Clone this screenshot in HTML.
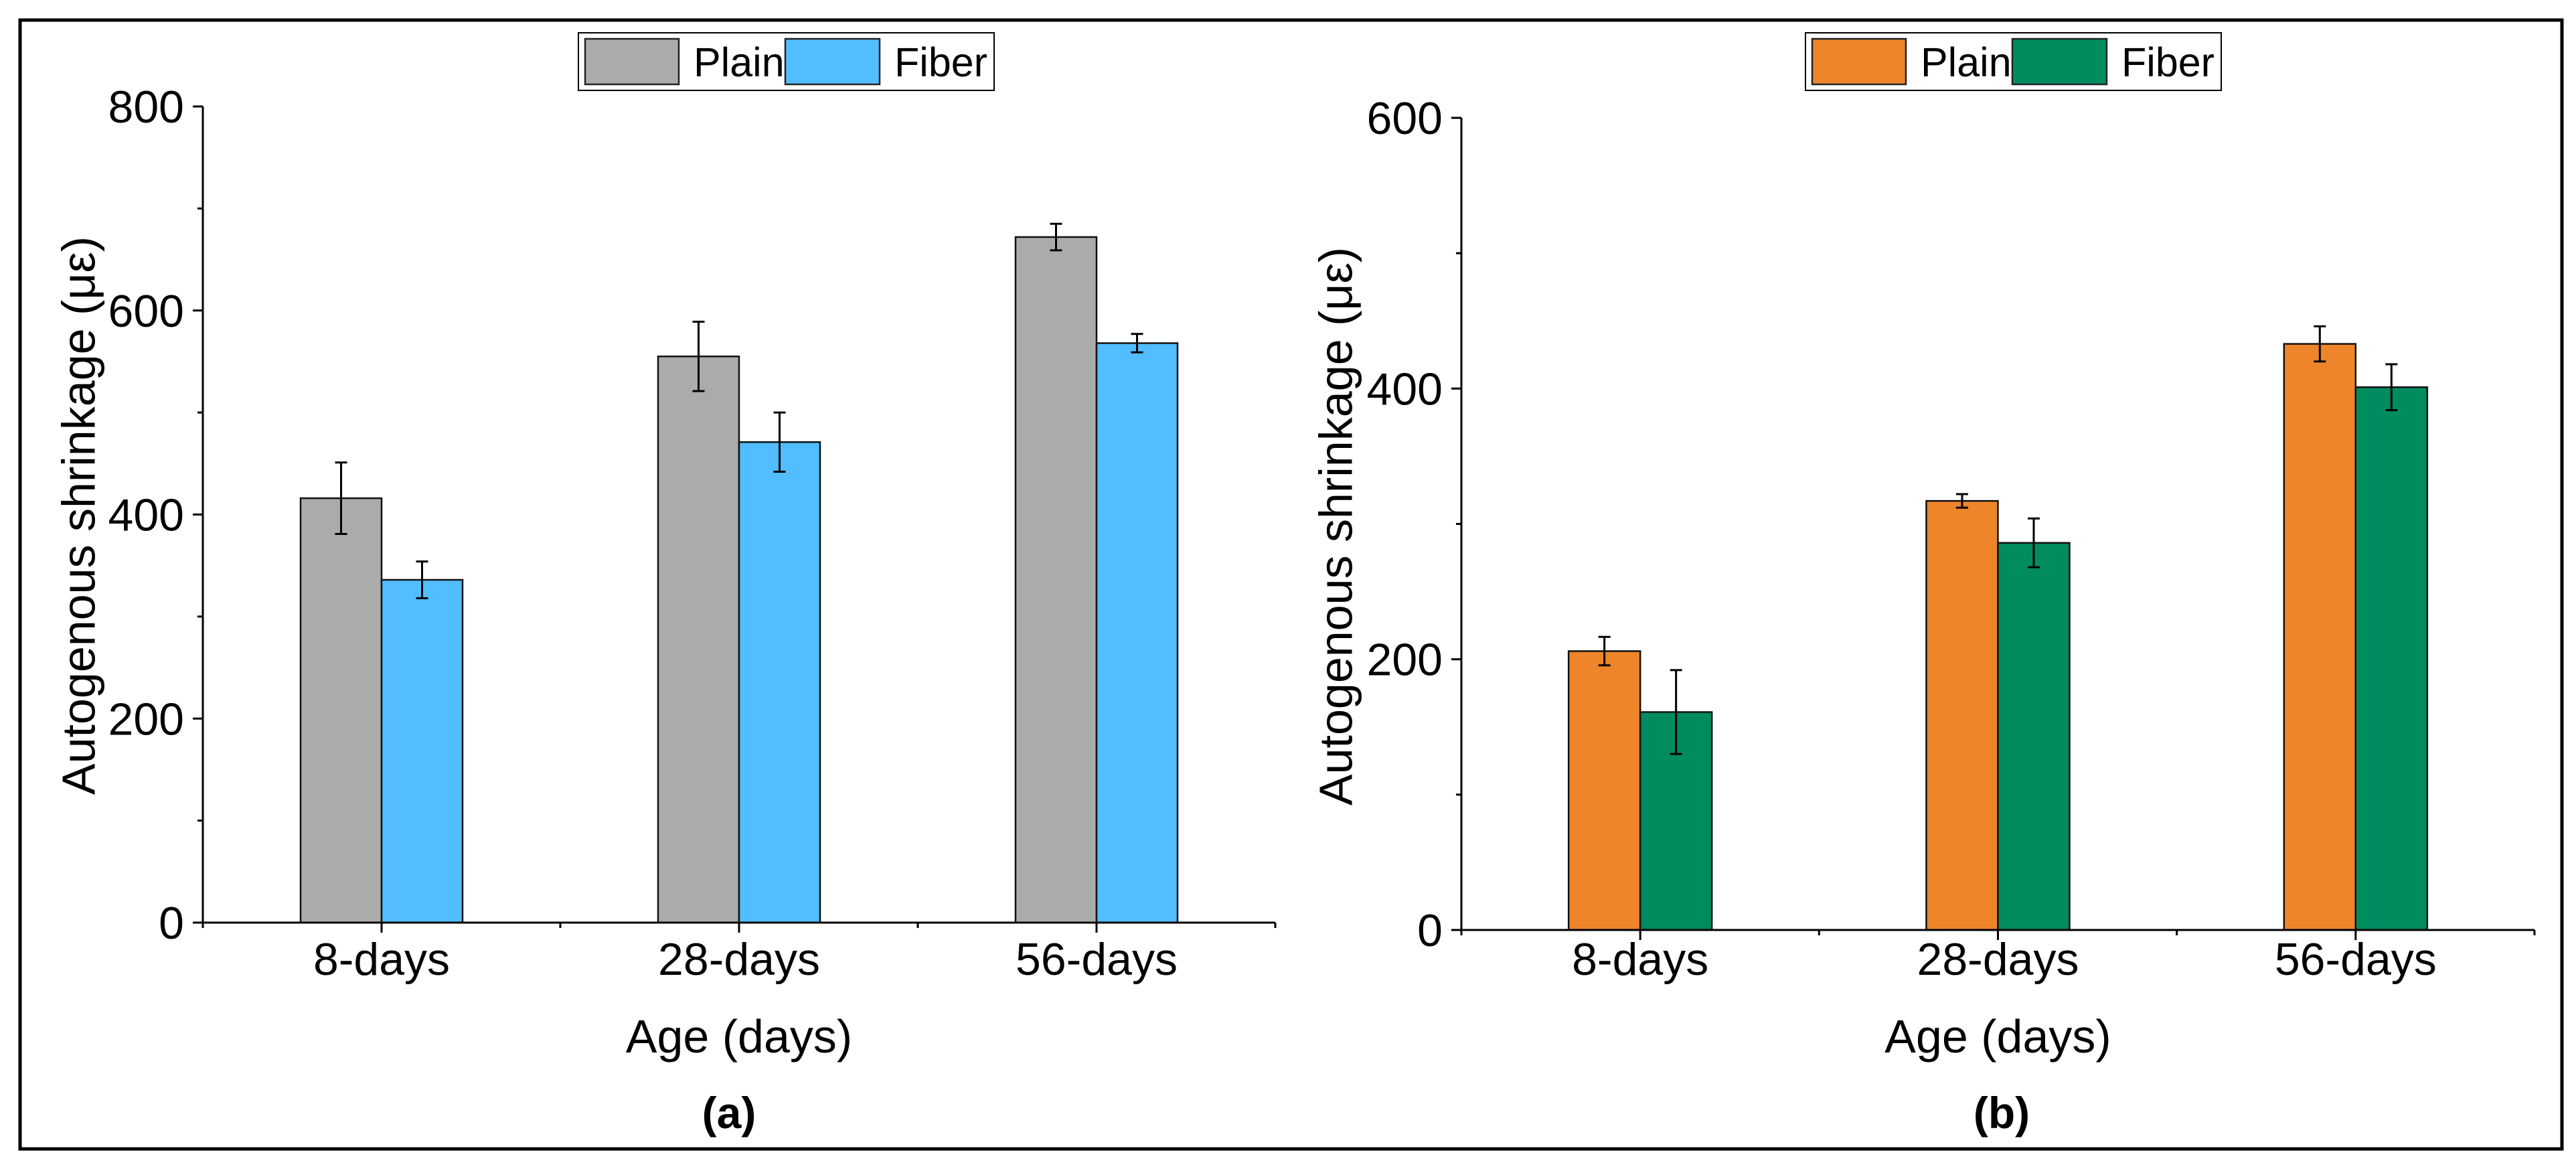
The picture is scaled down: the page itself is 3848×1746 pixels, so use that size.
<!DOCTYPE html>
<html><head><meta charset="utf-8"><style>
html,body{margin:0;padding:0;background:#fff}
svg{display:block}
text{font-family:"Liberation Sans",Arial,sans-serif;fill:#000}
</style></head><body>
<svg id="fig" width="3848" height="1746" viewBox="0 0 3848 1746" xmlns="http://www.w3.org/2000/svg">
<rect x="30" y="30" width="3797" height="1686" fill="none" stroke="#000" stroke-width="5"/>
<g id="pa"></g>
<g id="pb"></g>
</svg>
<script>
const categories = ["8-days", "28-days", "56-days"];
const seriesNames = ["Plain", "Fiber"];
const aPlain = [416, 555, 672];
const aPlainErr = [35, 34, 13];
const aFiber = [336, 471, 568];
const aFiberErr = [18, 29, 9];
const aTicks = [0, 200, 400, 600, 800];
const bPlain = [206, 317, 433];
const bPlainErr = [10.5, 5, 13];
const bFiber = [161, 286, 401];
const bFiberErr = [31, 18, 17];
const bTicks = [0, 200, 400, 600];

const NS = "http://www.w3.org/2000/svg";
function mk(parent, tag, attrs, txt){
  const e = document.createElementNS(NS, tag);
  for (const k in attrs) e.setAttribute(k, attrs[k]);
  if (txt !== undefined) e.textContent = txt;
  parent.appendChild(e);
  return e;
}

function panel(g, cfg){
  const x0 = cfg.x0, x1 = cfg.x1, y0 = cfg.y0, yTop = cfg.yTop, ymax = cfg.ymax;
  const step = (x1 - x0) / categories.length;
  const xc = i => x0 + step * (i + 0.5);
  const ys = v => y0 - (v / ymax) * (y0 - yTop);
  const bw = cfg.bw;
  const series = [[cfg.plain, cfg.plainErr, cfg.c1, 'plain'], [cfg.fiber, cfg.fiberErr, cfg.c2, 'fiber']];
  series.forEach((s, si) => {
    s[0].forEach((v, i) => {
      const bx = si === 0 ? xc(i) - bw : xc(i);
      const r = mk(g, 'rect', {x: bx, y: ys(v), width: bw, height: y0 - ys(v), fill: s[2], stroke: '#111', 'stroke-width': 2.5});
      
      
      const cx = bx + bw / 2, e = s[1][i];
      const eb = mk(g, 'path', {d: `M${cx} ${ys(v+e)}V${ys(v-e)}M${cx-9} ${ys(v+e)}h18M${cx-9} ${ys(v-e)}h18`, stroke: '#000', 'stroke-width': 3, fill: 'none'});
      
      
    });
  });
  // axes
  const ax = mk(g, 'path', {d: `M${x0} ${yTop}V${y0}H${x1}`, stroke: '#000', 'stroke-width': 3, fill: 'none'});
  
  
  const minor = cfg.ticks[1] / 2;
  for (let v = 0; v <= ymax + 0.01; v += minor) {
    const major = cfg.ticks.includes(v);
    mk(g, 'line', {x1: x0 - (major ? 15 : 8), x2: x0, y1: ys(v), y2: ys(v), stroke: '#000', 'stroke-width': 3});
  }
  cfg.ticks.forEach(v => {
    const t = mk(g, 'text', {x: x0 - 28, y: ys(v) + 24, 'text-anchor': 'end', 'font-size': 68}, String(v));
    
    
  });
  for (let i = 0; i <= categories.length; i++) {
    mk(g, 'line', {x1: x0 + step * i, x2: x0 + step * i, y1: y0, y2: y0 + 8, stroke: '#000', 'stroke-width': 3});
  }
  categories.forEach((c, i) => {
    mk(g, 'line', {x1: xc(i), x2: xc(i), y1: y0, y2: y0 + 15, stroke: '#000', 'stroke-width': 3});
    const t = mk(g, 'text', {x: xc(i), y: 1456, 'text-anchor': 'middle', 'font-size': 68}, c);
    
    
  });
  const xt = mk(g, 'text', {x: xc(1), y: 1572, 'text-anchor': 'middle', 'font-size': 70}, 'Age (days)');
  
  
  const yt = mk(g, 'text', {x: 0, y: 0, 'text-anchor': 'middle', 'font-size': 70, transform: `translate(${cfg.ytx} ${cfg.yty}) rotate(-90)`, dy: '0.35em'}, 'Autogenous shrinkage (με)');
  
  
  const pl = mk(g, 'text', {x: cfg.labx, y: 1685, 'text-anchor': 'middle', 'font-size': 66, 'font-weight': 'bold'}, cfg.label);
  
  
  // legend
  const L = cfg.legX;
  const lg = mk(g, 'g', {});
  
  
  mk(lg, 'rect', {x: L, y: 49, width: 621, height: 86, fill: '#fff', stroke: '#000', 'stroke-width': 2});
  const p1 = mk(lg, 'rect', {x: L + 10, y: 58, width: 140, height: 68, fill: cfg.c1, stroke: '#222', 'stroke-width': 2.5});
  
  
  const t1 = mk(lg, 'text', {x: L + 172, y: 114, 'font-size': 61}, seriesNames[0]);
  
  
  const p2 = mk(lg, 'rect', {x: L + 309, y: 58, width: 141, height: 68, fill: cfg.c2, stroke: '#222', 'stroke-width': 2.5});
  
  
  const t2 = mk(lg, 'text', {x: L + 472, y: 114, 'font-size': 61}, seriesNames[1]);
  
  
}

panel(document.getElementById('pa'), {x0: 303, x1: 1905, y0: 1378, yTop: 159, ymax: 800, ticks: aTicks,
  plain: aPlain, plainErr: aPlainErr, fiber: aFiber, fiberErr: aFiberErr, c1: '#ababab', c2: '#52bdff',
  bw: 121, ytx: 117, yty: 770, labx: 1089, label: '(a)', legX: 864});
panel(document.getElementById('pb'), {x0: 2183, x1: 3786, y0: 1389, yTop: 176, ymax: 600, ticks: bTicks,
  plain: bPlain, plainErr: bPlainErr, fiber: bFiber, fiberErr: bFiberErr, c1: '#ef852b', c2: '#008c5f',
  bw: 107, ytx: 1995, yty: 786, labx: 2990, label: '(b)', legX: 2697});
</script>
</body></html>
